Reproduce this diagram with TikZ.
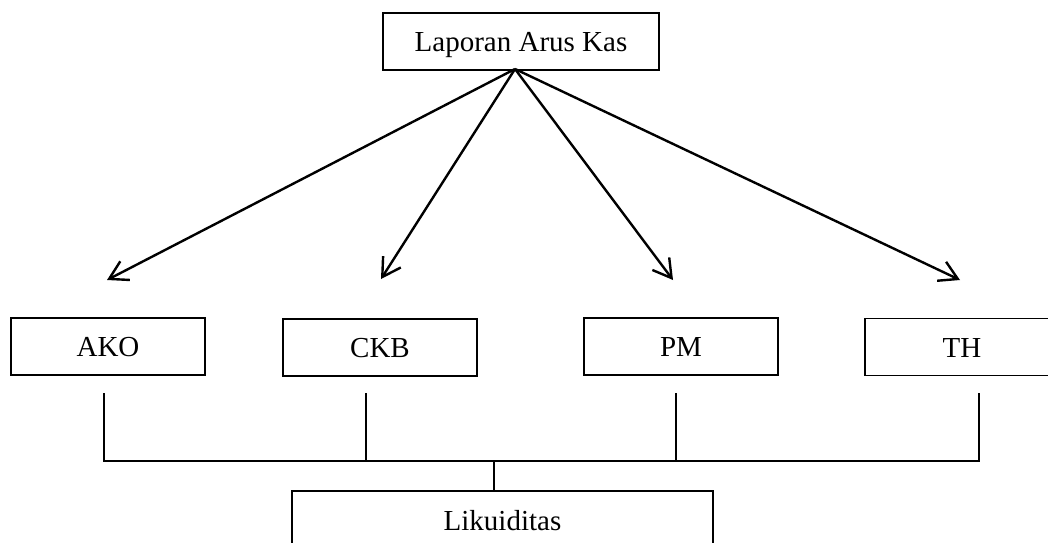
\documentclass[tikz,border=0pt]{standalone}
\usepackage{fontspec}
\setmainfont{Liberation Serif}
\usetikzlibrary{arrows.meta}
\begin{document}
\begin{tikzpicture}[x=1pt,y=-1pt,
  box/.style={draw, line width=1.4pt, inner sep=0pt, text height=20pt, text depth=0pt, font=\fontsize{29}{34}\selectfont},
  arr/.style={line width=2.4pt, -{Straight Barb[length=18pt,width=21pt,line width=2.4pt]}},
  conn/.style={line width=1.8pt}]
\clip (0,0) rectangle (1048,542);
\useasboundingbox (0,0) rectangle (1048,542);
\node[box, minimum width=276pt, minimum height=57pt] (lak) at (521,41.5) {Laporan Arus Kas};
\node[box, minimum width=194pt, minimum height=57pt] (ako) at (108,346.5) {AKO};
\node[box, minimum width=194pt, minimum height=57pt] (ckb) at (380,347.5) {CKB};
\node[box, minimum width=194pt, minimum height=57pt] (pm) at (681,346.5) {PM};
\node[box, minimum width=194pt, minimum height=57pt] (th) at (962,347) {TH};
\node[box, minimum width=421pt, minimum height=58pt] (lik) at (502.5,520) {Likuiditas};
\coordinate (src) at (515,69);
\coordinate (tako) at (107,280);
\coordinate (tckb) at (381,279);
\coordinate (tpm) at (673,280);
\coordinate (tth) at (960,280);
\draw[arr] (src) -- (tako);
\draw[arr] (src) -- (tckb);
\draw[arr] (src) -- (tpm);
\draw[arr] (src) -- (tth);
\coordinate (vako) at (104,393);
\coordinate (vckb) at (366,393);
\coordinate (vpm) at (676,393);
\coordinate (vth) at (979,393);
\coordinate (hako) at (104,461);
\coordinate (hckb) at (366,461);
\coordinate (hpm) at (676,461);
\coordinate (hth) at (979,461);
\coordinate (hmid) at (494,461);
\draw[conn] (vako) -- (hako) -- (hth) -- (vth);
\draw[conn] (vckb) -- (hckb);
\draw[conn] (vpm) -- (hpm);
\draw[conn] (hmid) -- (hmid |- lik.north);
\end{tikzpicture}
\end{document}
